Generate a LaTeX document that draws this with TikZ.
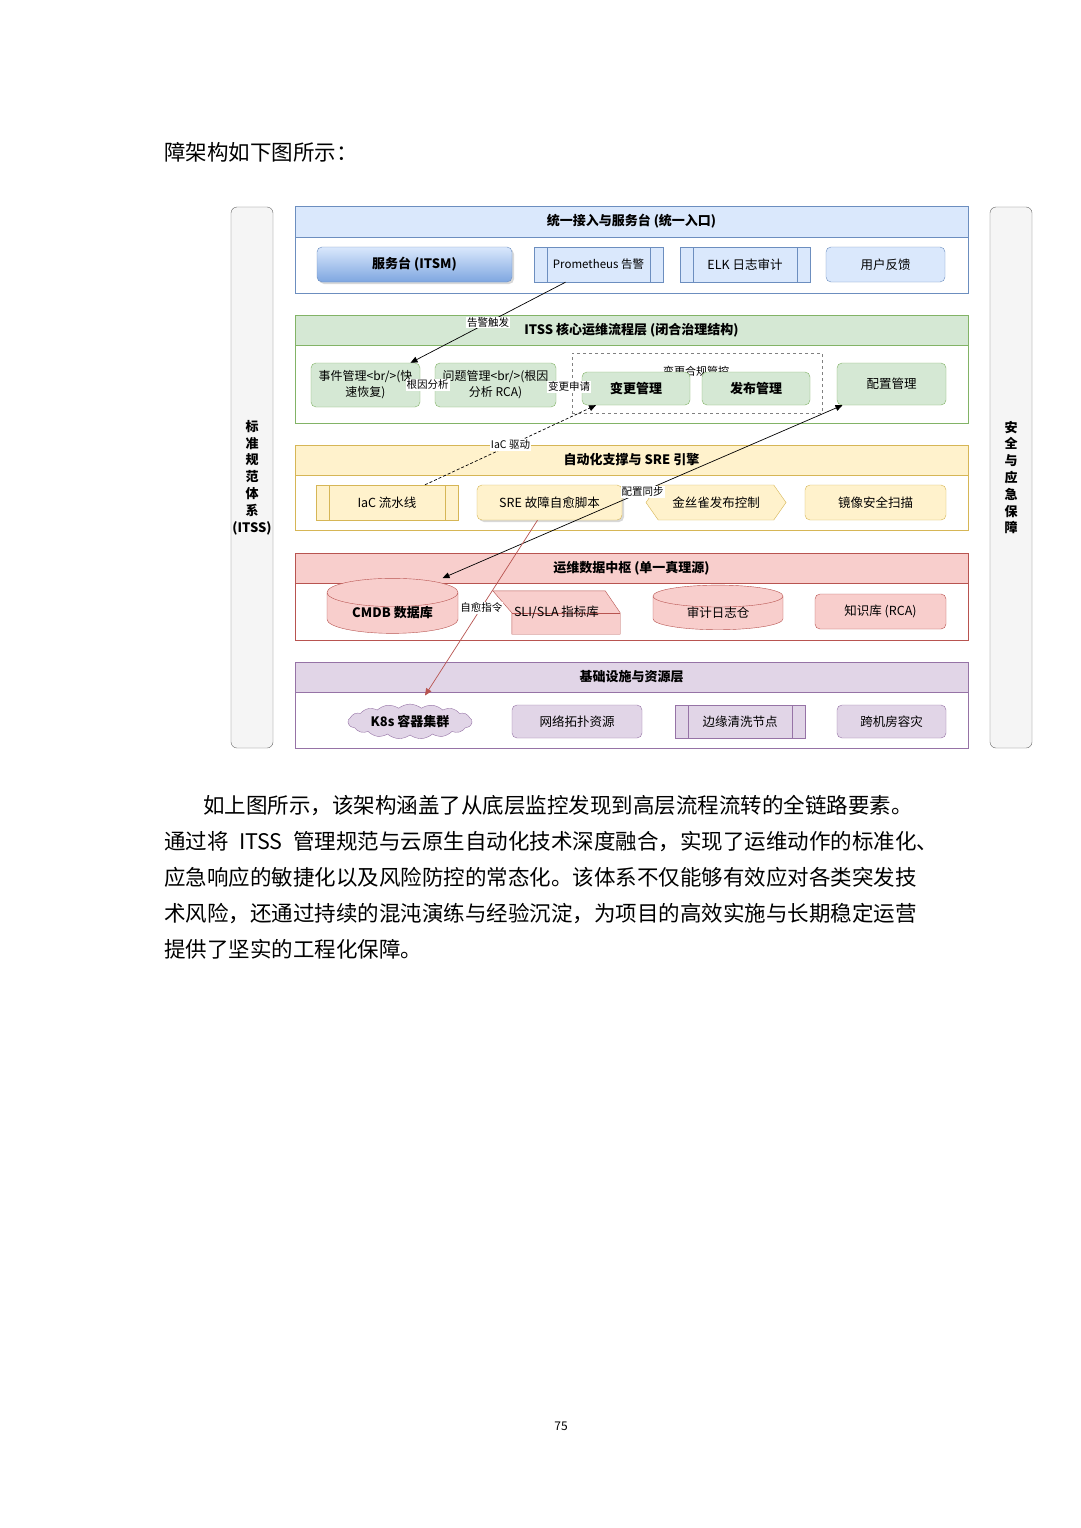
\documentclass[tikz,border=0pt]{standalone}
\usepackage{fontspec}
\setmainfont{Noto Sans CJK SC}
\usetikzlibrary{arrows.meta,positioning,shapes.geometric,shapes.symbols,shadows,backgrounds}

\definecolor{bluF}{HTML}{DAE8FC}\definecolor{bluD}{HTML}{6C8EBF}\definecolor{bluG}{HTML}{7EA6E0}
\definecolor{grnF}{HTML}{D5E8D4}\definecolor{grnD}{HTML}{82B366}
\definecolor{yelF}{HTML}{FFF2CC}\definecolor{yelD}{HTML}{D6B656}
\definecolor{redF}{HTML}{F8CECC}\definecolor{redD}{HTML}{B85450}
\definecolor{purF}{HTML}{E1D5E7}\definecolor{purD}{HTML}{9673A6}
\definecolor{sidF}{HTML}{F5F5F5}\definecolor{sidD}{HTML}{666666}

\begin{document}
\begin{tikzpicture}[
  x=1pt,y=-1pt,
  font=\fontsize{12.5}{15}\selectfont,
  sd/.style ={draw=sidD,fill=sidF,rounded corners=6pt,minimum width=42,minimum height=541,
              align=center,inner sep=0pt,font=\fontsize{13}{16.8}\selectfont\bfseries},
  hd/.style ={draw=#1D,fill=#1F,minimum width=673,minimum height=30,inner sep=0pt,
              font=\fontsize{13}{15}\selectfont\bfseries},
  bd/.style ={draw=#1D,minimum width=673,inner sep=0pt},
  bx/.style ={draw=#1D,fill=#1F,rounded corners=5pt,minimum height=35,inner sep=2pt,align=center},
  pc/.style ={draw=#1D,fill=#1F,minimum height=35,inner sep=2pt,
              path picture={\draw[#1D]
                ([xshift=13pt]path picture bounding box.north west) -- ([xshift=13pt]path picture bounding box.south west)
                ([xshift=-13pt]path picture bounding box.north east) -- ([xshift=-13pt]path picture bounding box.south east);}},
  cy/.style ={cylinder,shape border rotate=90,aspect=0.35,draw=#1D,fill=#1F,minimum height=42,inner sep=0pt},
  sh/.style ={drop shadow={opacity=0.3,shadow xshift=2pt,shadow yshift=-2pt}},
  lb/.style ={fill=white,inner sep=1pt,font=\fontsize{10.5}{12}\selectfont},
  ar/.style ={-{Triangle[length=7pt,width=6pt]},line width=0.7pt},
  ab/.style ={{Triangle[length=7pt,width=6pt]}-{Triangle[length=7pt,width=6pt]},line width=0.7pt},
  tx/.style ={anchor=base west,inner sep=0pt,font=\fontsize{21.5}{36}\selectfont}
]
\path[use as bounding box] (0,0) rectangle (1080,1528);
\begin{pgfonlayer}{background}
\fill[white] (0,0) rectangle (1080,1528);
\end{pgfonlayer}

% ======== page text above
\node[tx] (intro) at (164,160) {障架构如下图所示：};

% ======== side bars
\node[sd] (lbar) at (252,477.5) {标\\准\\规\\范\\体\\系\\(ITSS)};
\node[sd] (rbar) at (1011,477.5) {安\\全\\与\\应\\急\\保\\障};

% ======== layer 1: access
\node[hd=blu,minimum height=31] (h1) at (631.5,221.5) {统一接入与服务台 (统一入口)};
\node[bd=blu,minimum height=56,below=0pt of h1] (b1) {};
\node[bx=blu,minimum width=195,top color=bluF,bottom color=bluG,sh,font=\fontsize{13}{15}\selectfont\bfseries]
  (itsm) at (414.5,264.5) {服务台 (ITSM)};
\node[pc=blu,minimum width=129,font=\fontsize{11.5}{14}\selectfont] (prom) at (598.5,264.5) {Prometheus 告警};
\node[pc=blu,minimum width=130] (elk)  at (745,264.5)   {ELK 日志审计};
\node[bx=blu,minimum width=119] (fb)   at (885.5,264.5) {用户反馈};

% ======== layer 2: ITSS process
\node[hd=grn] (h2) at (631.5,330) {ITSS 核心运维流程层 (闭合治理结构)};
\node[bd=grn,minimum height=78,below=0pt of h2] (b2) {};
\node[bx=grn,minimum width=109,minimum height=44,font=\fontsize{12}{16}\selectfont]
  (evt) at (365.5,385) {事件管理<br/>(快\\速恢复)};
\node[bx=grn,minimum width=121,minimum height=44,font=\fontsize{12}{16}\selectfont]
  (prb) at (495.5,385) {问题管理<br/>(根因\\分析 RCA)};
\node[draw=gray,dashed,minimum width=250,minimum height=60] (cg) at (697,383) {};
\node[font=\fontsize{11}{13}\selectfont] (cgl) at (696,371) {变更合规管控};
\node[bx=grn,minimum width=108,minimum height=33,font=\fontsize{13}{15}\selectfont\bfseries] (chg) at (636,388.5) {变更管理};
\node[bx=grn,minimum width=108,minimum height=33,font=\fontsize{13}{15}\selectfont\bfseries] (rel) at (756,388.5) {发布管理};
\node[bx=grn,minimum width=109,minimum height=42] (cfg) at (891.5,384) {配置管理};

% ======== layer 3: automation
\node[hd=yel] (h3) at (631.5,460) {自动化支撑与 SRE 引擎};
\node[bd=yel,minimum height=55,below=0pt of h3] (b3) {};
\node[pc=yel,minimum width=142] (iac)  at (387,502.5)   {IaC 流水线};
\node[bx=yel,minimum width=145,sh] (sre) at (549.5,502.5) {SRE 故障自愈脚本};
\node[signal,signal to=west and east,signal pointer angle=110,draw=yelD,fill=yelF,
      minimum width=140,minimum height=35,inner sep=2pt] (cny) at (716,502.5) {金丝雀发布控制};
\node[bx=yel,minimum width=141] (scan) at (875.5,502.5) {镜像安全扫描};

% ======== layer 4: data hub
\node[hd=red] (h4) at (631.5,568) {运维数据中枢 (单一真理源)};
\node[bd=red,minimum height=57,below=0pt of h4] (b4) {};
\node[cy=red,minimum width=131,font=\fontsize{13}{15}\selectfont\bfseries] (cmdb) at (392.5,613) {CMDB 数据库};
\node[minimum width=127,minimum height=43,inner sep=0pt] (sli) at (556.5,612.5) {SLI/SLA 指标库};
\node[cy=red,minimum width=130] (adt) at (718,613) {审计日志仓};
\node[bx=red,minimum width=131] (kb) at (880.5,611.5) {知识库 (RCA)};
\begin{pgfonlayer}{background}
\draw[draw=redD,fill=redF] (sli.north west) -- ([xshift=-15]sli.north east) -- ([yshift=-22]sli.north east)
  -- (sli.south east) -- ([xshift=19]sli.south west) -- ([xshift=19,yshift=-22]sli.north west) -- cycle;
\draw[redD] ([xshift=19,yshift=-22]sli.north west) -- ([yshift=-22]sli.north east);
\end{pgfonlayer}

% ======== layer 5: infrastructure
\node[hd=pur] (h5) at (631.5,677) {基础设施与资源层};
\node[bd=pur,minimum height=56,below=0pt of h5] (b5) {};
\node[cloud,cloud puffs=17,cloud puff arc=80,aspect=4,draw=purD,fill=purF,minimum width=124,minimum height=28,inner sep=0pt,
      font=\fontsize{13}{15}\selectfont\bfseries] (k8s) at (410,721.5) {K8s 容器集群};
\node[bx=pur,minimum width=130,minimum height=33] (net)  at (577,721.5) {网络拓扑资源};
\node[pc=pur,minimum width=130,minimum height=33] (edge) at (740,721.5) {边缘清洗节点};
\node[bx=pur,minimum width=109,minimum height=33] (dr)   at (891.5,721.5) {跨机房容灾};

% ======== connectors
\draw[ar] ([xshift=-33]prom.south) -- ([xshift=45]evt.north) node[lb,midway]{告警触发};
\draw[ar] (evt.east) -- (prb.west) node[lb,midway]{根因分析};
\draw[ar] (prb.east) -- (chg.west) node[lb,midway]{变更申请};
\draw[ar,dash pattern=on 3pt off 2pt] ([xshift=38]iac.north) -- ([xshift=-40]chg.south) node[lb,midway]{IaC 驱动};
\draw[ab] ([xshift=50]cmdb.north) -- ([xshift=-49]cfg.south) node[lb,midway]{配置同步};
\draw[ar,draw=redD] ([xshift=-12]sre.south) -- ([xshift=15,yshift=26]k8s.center) node[lb,midway]{自愈指令};

% ======== page text below
\node[tx] (p1) at (203,813) {如上图所示，该架构涵盖了从底层监控发现到高层流程流转的全链路要素。};
\node[tx] (p2) at (164,849) {通过将\makebox[3em]{ITSS}管理规范与云原生自动化技术深度融合，实现了运维动作的标准化、};
\node[tx] (p3) at (164,885) {应急响应的敏捷化以及风险防控的常态化。该体系不仅能够有效应对各类突发技};
\node[tx] (p4) at (164,921) {术风险，还通过持续的混沌演练与经验沉淀，为项目的高效实施与长期稳定运营};
\node[tx] (p5) at (164,957) {提供了坚实的工程化保障。};
\node[font=\fontsize{12}{14}\selectfont] (pg) at (561,1426) {75};
\end{tikzpicture}
\end{document}
